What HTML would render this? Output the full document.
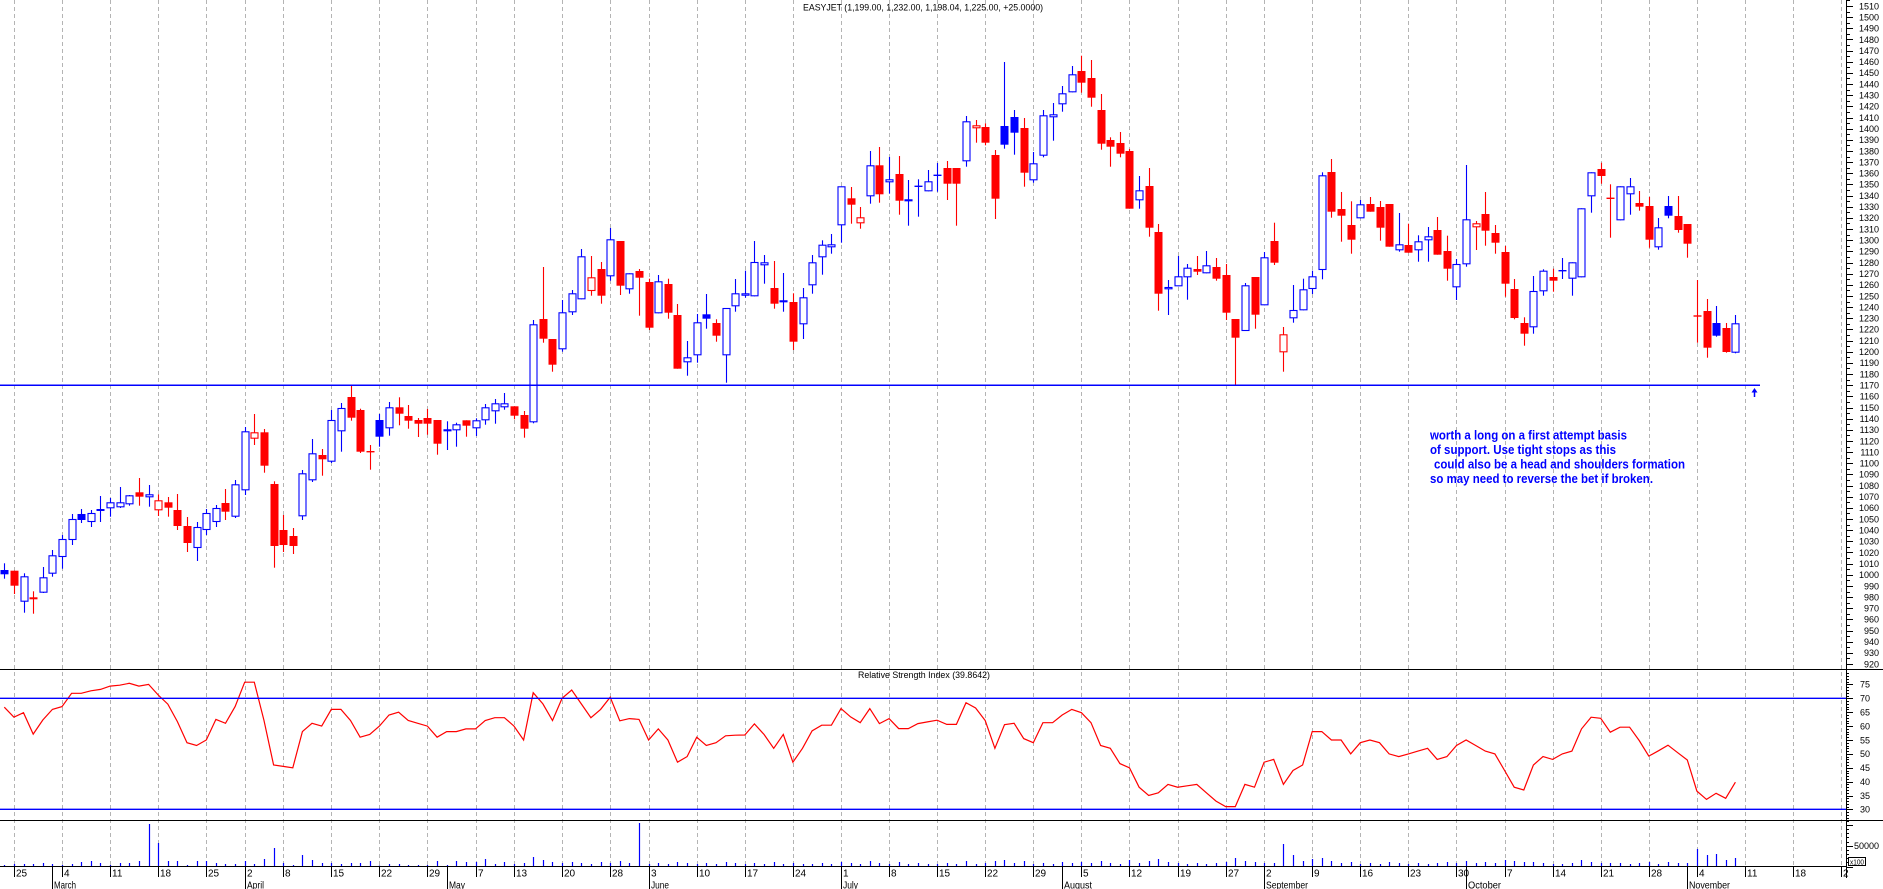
<!DOCTYPE html>
<html><head><meta charset="utf-8"><title>EASYJET</title>
<style>
html,body{margin:0;padding:0;background:#fff;overflow:hidden;}
svg{display:block;}
text{font-family:"Liberation Sans",Arial,sans-serif;fill:#000;}
</style></head><body>
<svg id="s" width="1883" height="889" viewBox="0 0 1883 889" xmlns="http://www.w3.org/2000/svg">
<rect width="1883" height="889" fill="#fff"/>
<g id="grid"></g>
<g id="vol"></g>
<g id="cand"></g>
<g id="rsi"></g>
<g stroke="#000" stroke-width="1" shape-rendering="crispEdges">
<line x1="0" y1="669.5" x2="1883" y2="669.5"/>
<line x1="0" y1="820.5" x2="1883" y2="820.5"/>
<line x1="0" y1="866.5" x2="1846" y2="866.5"/>
<line x1="1846.5" y1="0" x2="1846.5" y2="878"/>
</g>
<g stroke="#0000ff">
<line x1="0" y1="385.3" x2="1760" y2="385.3" stroke-width="1.5"/>
<line x1="0" y1="698.3" x2="1846" y2="698.3" stroke-width="1.3"/>
<line x1="0" y1="809.3" x2="1846" y2="809.3" stroke-width="1.3"/>
<line x1="1754.5" y1="390" x2="1754.5" y2="397" stroke-width="1.5"/>
</g>
<polygon points="1751.5,392.5 1754.5,388 1757.5,392.5" fill="#0000ff"/>
<g id="ticks" stroke="#000" stroke-width="1" shape-rendering="crispEdges"></g>
<g font-size="9" text-anchor="end">
<text x="1879" y="9.3">1510</text><text x="1879" y="20.5">1500</text><text x="1879" y="31.6">1490</text><text x="1879" y="42.8">1480</text><text x="1879" y="53.9">1470</text><text x="1879" y="65.1">1460</text><text x="1879" y="76.2">1450</text><text x="1879" y="87.4">1440</text><text x="1879" y="98.5">1430</text><text x="1879" y="109.7">1420</text><text x="1879" y="120.8">1410</text><text x="1879" y="132">1400</text><text x="1879" y="143.1">1390</text><text x="1879" y="154.3">1380</text><text x="1879" y="165.4">1370</text><text x="1879" y="176.6">1360</text><text x="1879" y="187.7">1350</text><text x="1879" y="198.9">1340</text><text x="1879" y="210.1">1330</text><text x="1879" y="221.2">1320</text><text x="1879" y="232.4">1310</text><text x="1879" y="243.5">1300</text><text x="1879" y="254.7">1290</text><text x="1879" y="265.8">1280</text><text x="1879" y="277">1270</text><text x="1879" y="288.1">1260</text><text x="1879" y="299.3">1250</text><text x="1879" y="310.4">1240</text><text x="1879" y="321.6">1230</text><text x="1879" y="332.7">1220</text><text x="1879" y="343.9">1210</text><text x="1879" y="355">1200</text><text x="1879" y="366.2">1190</text><text x="1879" y="377.3">1180</text><text x="1879" y="388.5">1170</text><text x="1879" y="399.7">1160</text><text x="1879" y="410.8">1150</text><text x="1879" y="422">1140</text><text x="1879" y="433.1">1130</text><text x="1879" y="444.3">1120</text><text x="1879" y="455.4">1110</text><text x="1879" y="466.6">1100</text><text x="1879" y="477.7">1090</text><text x="1879" y="488.9">1080</text><text x="1879" y="500">1070</text><text x="1879" y="511.2">1060</text><text x="1879" y="522.3">1050</text><text x="1879" y="533.5">1040</text><text x="1879" y="544.7">1030</text><text x="1879" y="555.8">1020</text><text x="1879" y="567">1010</text><text x="1879" y="578.1">1000</text><text x="1879" y="589.3">990</text><text x="1879" y="600.4">980</text><text x="1879" y="611.6">970</text><text x="1879" y="622.7">960</text><text x="1879" y="633.9">950</text><text x="1879" y="645">940</text><text x="1879" y="656.2">930</text><text x="1879" y="667.3">920</text>
<text x="1870" y="687.7">75</text><text x="1870" y="701.6">70</text><text x="1870" y="715.5">65</text><text x="1870" y="729.4">60</text><text x="1870" y="743.3">55</text><text x="1870" y="757.2">50</text><text x="1870" y="771.1">45</text><text x="1870" y="784.9">40</text><text x="1870" y="798.8">35</text><text x="1870" y="812.7">30</text>
<text x="1879" y="849">50000</text>
</g>
<rect x="1848.5" y="857.5" width="17" height="8" fill="#fff" stroke="#000" stroke-width="1"/>
<text x="1850" y="864.5" font-size="7" textLength="14" lengthAdjust="spacingAndGlyphs">x100</text>
<text x="923" y="10.5" font-size="9" text-anchor="middle" textLength="240" lengthAdjust="spacingAndGlyphs">EASYJET (1,199.00, 1,232.00, 1,198.04, 1,225.00, +25.0000)</text>
<text x="924" y="677.8" font-size="9" text-anchor="middle" textLength="132" lengthAdjust="spacingAndGlyphs">Relative Strength Index (39.8642)</text>
<g font-size="13" font-weight="bold" style="fill:#0000ff" lengthAdjust="spacingAndGlyphs">
<text x="1430" y="439.5" textLength="197" lengthAdjust="spacingAndGlyphs" style="fill:#0000ff">worth a long on a first attempt basis</text>
<text x="1430" y="454" textLength="186" lengthAdjust="spacingAndGlyphs" style="fill:#0000ff">of support. Use tight stops as this</text>
<text x="1434" y="468.5" textLength="251" lengthAdjust="spacingAndGlyphs" style="fill:#0000ff">could also be a head and shoulders formation</text>
<text x="1430" y="483" textLength="223" lengthAdjust="spacingAndGlyphs" style="fill:#0000ff">so may need to reverse the bet if broken.</text>
</g>
<g font-size="10">
<text x="16" y="876.5">25</text><text x="64" y="876.5">4</text><text x="112" y="876.5">11</text><text x="160" y="876.5">18</text><text x="208" y="876.5">25</text><text x="247" y="876.5">2</text><text x="285" y="876.5">8</text><text x="333" y="876.5">15</text><text x="381" y="876.5">22</text><text x="429" y="876.5">29</text><text x="478" y="876.5">7</text><text x="516" y="876.5">13</text><text x="564" y="876.5">20</text><text x="612" y="876.5">28</text><text x="651" y="876.5">3</text><text x="699" y="876.5">10</text><text x="747" y="876.5">17</text><text x="795" y="876.5">24</text><text x="843" y="876.5">1</text><text x="891" y="876.5">8</text><text x="939" y="876.5">15</text><text x="987" y="876.5">22</text><text x="1035" y="876.5">29</text><text x="1083" y="876.5">5</text><text x="1131" y="876.5">12</text><text x="1180" y="876.5">19</text><text x="1228" y="876.5">27</text><text x="1266" y="876.5">2</text><text x="1314" y="876.5">9</text><text x="1362" y="876.5">16</text><text x="1410" y="876.5">23</text><text x="1458" y="876.5">30</text><text x="1507" y="876.5">7</text><text x="1555" y="876.5">14</text><text x="1603" y="876.5">21</text><text x="1651" y="876.5">28</text><text x="1699" y="876.5">4</text><text x="1747" y="876.5">11</text><text x="1795" y="876.5">18</text><text x="1843" y="876.5">2</text>
<text x="54" y="888.5" textLength="22" lengthAdjust="spacingAndGlyphs">March</text>
<text x="247" y="888.5" textLength="17" lengthAdjust="spacingAndGlyphs">April</text>
<text x="449" y="888.5" textLength="16" lengthAdjust="spacingAndGlyphs">May</text>
<text x="651" y="888.5" textLength="18" lengthAdjust="spacingAndGlyphs">June</text>
<text x="843" y="888.5" textLength="15" lengthAdjust="spacingAndGlyphs">July</text>
<text x="1064" y="888.5" textLength="28" lengthAdjust="spacingAndGlyphs">August</text>
<text x="1266" y="888.5" textLength="42" lengthAdjust="spacingAndGlyphs">September</text>
<text x="1468" y="888.5" textLength="33" lengthAdjust="spacingAndGlyphs">October</text>
<text x="1689" y="888.5" textLength="41" lengthAdjust="spacingAndGlyphs">November</text>
</g>
</svg>
<script>
(function(){
var NS='http://www.w3.org/2000/svg';
function mk(p,n,a){var e=document.createElementNS(NS,n);for(var k in a)e.setAttribute(k,a[k]);p.appendChild(e);return e;}
function X(i){return 4.3+9.617*i;}
function P(i){return Math.round(X(i));}
var weeks=[1,6,11,16,21,25,29,34,39,44,49,53,58,63,67,72,77,82,87,92,97,102,107,112,117,122,127,131,136,141,146,151,156,161,166,171,176,181,186,191];
var months=[5,25,46,67,87,110,131,152,175];
var grid=document.getElementById('grid'),ticks=document.getElementById('ticks');
weeks.forEach(function(i){var x=P(i)+0.5;
 mk(grid,'line',{x1:x,x2:x,y1:0,y2:866,stroke:'#b4b4b4','stroke-dasharray':'4,3','stroke-width':1});
 mk(ticks,'line',{x1:x,x2:x,y1:866,y2:877});});
months.forEach(function(i){var x=P(i)+0.5;mk(ticks,'line',{x1:x,x2:x,y1:866,y2:889});});
var p,y;
for(p=915;p<=1515;p+=5){y=6+(1510-p)*1.1153;if(y<0||y>668)continue;y=Math.round(y)+0.5;mk(ticks,'line',{x1:1846,x2:(p%10===0?1853:1850),y1:y,y2:y});}
for(p=26;p<=79;p++){y=698.3+(70-p)*2.778;if(y<670||y>820)continue;y=Math.round(y)+0.5;mk(ticks,'line',{x1:1846,x2:(p%5===0?1853:1849),y1:y,y2:y});}
for(p=0;p<=11;p++){y=Math.round(866.5-p*4.16)+0.5;mk(ticks,'line',{x1:1846,x2:(p%5===0?1853:1849),y1:y,y2:y});}
var V=[1,2,2,2,3,2,1,2,4,5,3,1,3,3,5,42,23,5,5,1,5,5,3,2,2,5,2,7,18,3,1,11,6,3,3,2,3,3,5,0.5,2,2,1,1,1,5,1,5,4,4,7,2,4,2,
3,9,6,4,3,4,3,2,4,3,5,3,43,2,3,2,4,3,2,3,2,4,3,2,3,2,4,2,3,2,2,3,2,4,3,2,5,3,2,4,2,3,2,2,3,2,5,2,3,5,6,3,5,2,3,2,4,3,4,3,5,3,2,6,3,5,7,4,3,2,3,2,3,4,8,5,4,3,3,22,11,5,7,8,5,3,4,2,3,2,4,3,2,3,2,3,4,3,5,3,4,3,6,5,4,4,3,2,2,3,6,4,3,3,3,2,3,4,2,4,3,3,17,11,12,6,8];
var vol=document.getElementById('vol');
V.forEach(function(h,i){var x=P(i)+0.5;mk(vol,'line',{x1:x,x2:x,y1:866,y2:866-h,stroke:'#0000ff','stroke-width':1.2});});
var C=[[563.3,578.7,570,574.3,1,1],[570.7,594,570.7,585.7,0,1],[573.3,612.7,576.3,601.7,1,0],[591.3,613.7,597.3,599.3,0,1],[567,593,577.3,592.7,1,0],[550,576.7,555.3,573.7,1,0],[535,568.7,539,557,1,0],[514,545,519,540,1,0],[509,523,514,520,1,1],[510,527,513,522,1,0],
[496,522,509,511,1,1],[498,516.7,502.3,508.3,1,0],[487,508,502.3,507.3,1,0],[495,505.7,495.3,504.3,1,0],[478,505.7,492.3,496.7,0,1],[485,506.7,494.3,497.3,1,0],[494.3,516,500.3,510.3,0,0],[497,516.7,502.3,507.7,0,1],[494,530,510,526,0,1],[517,552,526,543,0,1],
[522,561,527,548,1,0],[509,535,513,530,1,0],[505,527,508,522,1,0],[489,520,503,511.7,0,1],[480,518,484.3,516.7,1,0],[427,495,431.3,490.3,1,0],[414,445,432.3,438.7,0,0],[429,472.7,432.3,465.7,0,1],[481.3,567.7,484,546,0,1],[515,552,530,545,0,1],
[528,554,536,546,0,1],[470,520,473.3,516.3,1,0],[439,482,453.3,480.3,1,0],[449,475.7,455,459.3,0,1],[410,463,420,461.7,1,0],[403,451.7,408,431.3,1,0],[386,420.7,397,417.7,0,1],[408.7,453,410,451.7,0,1],[445,469.7,451.7,451.7,0,1],[414,446.7,420,436.7,1,1],
[402,435.7,407.3,428.3,1,0],[397.3,425.3,407.3,413.7,0,1],[405,428.7,416,420.7,0,1],[418,437,420,423.7,0,1],[409,434.7,418,423.7,0,1],[420,454.7,420,443.7,0,1],[421.3,450,429.3,431.3,1,0],[422.7,446.7,424.3,430.3,1,0],[420.3,436.7,420.3,425.7,0,1],[418.3,436,420.3,428.3,1,0],
[404,424.7,407.3,420.3,1,0],[399,423.7,403.3,411.3,1,0],[393,409.7,403.3,407.3,1,0],[406.3,419.3,406.3,415.7,0,1],[411,437.7,415,428.7,0,1],[320,423.3,324.3,422.3,1,0],[267,342.7,319,338.7,0,1],[339,371.7,339,364.7,0,1],[300,351.7,312.3,349.3,1,0],[290,315,293.3,312.3,1,0],
[249,299.3,256.3,299.3,1,0],[256,295.7,277.3,291,0,0],[262,303.7,269,295.7,0,1],[228,280.7,239.3,276.3,1,0],[241,295,241,285.7,0,1],[273.3,293.7,273.3,289.3,1,0],[269,315.7,271,277.7,0,1],[278.7,330,282,327.7,0,1],[275,313.3,281.3,313.3,1,0],[278.7,318.7,284,312.7,0,1],
[304,368.7,315,368.7,0,1],[341,375.7,357.3,362.3,1,0],[314,362.7,322.3,355.3,1,0],[294,328.7,314.3,318.7,1,1],[319.3,341.7,323,335.7,0,1],[308,382.7,308,355.3,1,0],[279,311.7,293.3,306.3,1,0],[270.7,297.7,293.3,295.7,1,0],[241,296.3,262,296.3,1,0],[255,283.7,262.3,265.3,1,0],
[261,308.7,288,303.7,0,1],[273,311.7,300.3,302.3,1,0],[293.3,350,302,341.7,0,1],[288,339,297.3,324.3,1,0],[255,293.7,262.3,285.3,1,0],[240.3,274.7,244.7,257.3,1,0],[234,253.7,244.3,247.3,1,0],[186.3,242.7,186.3,225.3,1,0],[187,223.7,198.3,204.7,0,1],[207,228.7,217.3,223.3,0,0],
[151,203.7,165.3,196.3,1,0],[147,202.7,165.3,194.3,0,1],[157,193.7,179.3,182.3,1,0],[156,214.7,174,200.7,0,1],[180,225.7,199.3,201.3,1,0],[179.3,216.7,186.3,186.3,1,0],[170,191.3,181.3,191.3,1,0],[163,191.7,175.3,175.3,1,0],[161,200,168,183.7,0,1],[168,225.7,168,183.7,0,1],
[116,166.7,121.3,161.3,1,0],[120,142.7,125.3,128.3,0,0],[123.3,145.3,127,142.7,0,1],[150,219,155,198.7,0,1],[62,148.7,126,144.7,1,1],[110,154.7,117,132.7,1,1],[118,186.7,128,172.7,0,1],[152,182.7,163.3,180.3,1,0],[110,157.3,115.3,155.7,1,0],[103,140.7,114.3,117.3,1,0],
[86,111.7,93.3,104.3,1,0],[66,92.3,74.3,92.3,1,0],[55.7,92.7,71,82.7,0,1],[60,106.7,78,97.7,0,1],[94,149.7,110,143.7,0,1],[137.3,166.7,140,146.7,0,1],[132,157.3,143,153.7,0,1],[149,208.7,151,208.7,0,1],[176,208.7,190.3,200.3,1,0],[168,236.7,186,227.7,0,1],
[224,310.7,232,293.7,0,1],[280,315,287,289.3,1,0],[256,286.3,276.3,286.3,1,0],[264,299.7,267.7,277.3,1,0],[256,275,269,271.7,0,1],[251,273.3,265.3,273.3,1,0],[258,280.7,267,278.7,0,1],[264,320,275,312.7,0,1],[319,385.3,319,337.7,0,1],[283,331,285.3,331,1,0],
[277,328.7,277,314.7,0,1],[252,305.3,257.3,305.3,1,0],[222.7,265,241,262.7,0,1],[327,371.7,334.3,352.3,0,0],[285,322.7,310,318.3,1,0],[278.7,310.3,289.3,310.3,1,0],[270.7,294,276.3,289,1,0],[172.3,279.3,175.3,270,1,0],[159,217.7,172,211.7,0,1],[192,241.7,209,215.7,0,1],
[201.3,253.7,225,239.7,0,1],[200,218.3,204.3,218.3,1,0],[197,211.7,204,211.7,0,1],[201,240.7,207,227.7,0,1],[204,246.7,204,246.7,0,1],[213,251.7,244.3,250.3,1,0],[223.7,252.7,245,252.7,0,1],[235.3,261.7,241.3,250.3,1,0],[227,261.7,236.3,240.3,1,0],[217,254.7,230,254.7,0,1],
[235.7,280.7,251,268.7,0,1],[259,300,264,287.3,1,0],[165,266.7,219.3,264.3,1,0],[221,250,223.3,227.3,0,0],[192,245.7,214,230.7,0,1],[225,253.7,233,242.7,0,1],[246,296.7,252,283.7,0,1],[279,319.3,289,318,0,1],[317.3,345.7,323,333.7,0,1],[276,333.7,291,327.3,1,0],
[269.3,295.7,270.7,291.3,1,0],[268.7,291.7,277,280.7,0,1],[258,279,270.7,270.7,1,0],[262.3,295.7,262.3,278.7,1,0],[208.3,277.3,208.3,277.3,1,0],[172.3,212.7,172.3,196.3,1,0],[162.7,183.7,169,176,0,1],[184.3,237.7,198.3,198.3,0,1],[186.3,220.3,186.3,220.3,1,0],[178,214.7,186.3,194.3,1,0],
[191,210.7,203,206.7,0,1],[197,247.7,206,239.7,0,1],[218,249.7,227.3,247.3,1,0],[196,218.3,206,215.7,1,1],[196,232.7,216,230,0,1],[224,257.7,224,243.7,0,1],[280,342.7,316,316,0,1],[299,357.7,311,347.7,0,1],[306,336.7,323,335.7,1,1],[323,352.7,328,352,0,1],
[315,353.3,323.3,352.7,1,0]];
var cand=document.getElementById('cand');
C.forEach(function(c,i){
 var h=c[0],l=c[1],t=c[2],b=c[3],col=c[4]?'#0000ff':'#ff0000',f=c[5];
 var px=P(i),x=px+0.5;
 mk(cand,'line',{x1:x,x2:x,y1:h,y2:l,stroke:col,'stroke-width':1.1});
 if(b-t<1.5){mk(cand,'line',{x1:px-3.5,x2:px+4.5,y1:t,y2:t,stroke:col,'stroke-width':1.4});}
 else if(f){mk(cand,'rect',{x:px-3.5,y:t,width:8,height:b-t,fill:col});}
 else{mk(cand,'rect',{x:px-3,y:t+0.5,width:7,height:Math.max(b-t-1,0.5),fill:'#fff',stroke:col,'stroke-width':1.1});}
});
var R=[66.8,63.2,64.8,57.1,62.2,66.0,67.0,71.8,71.8,72.7,73.2,74.4,74.7,75.4,74.4,75.0,71.2,67.9,61.6,54,53,55,62.4,61,67,75.8,75.8,62,46,45.5,45,58,61,60,66,66,62,56,57,60,64,65,62,61,60,56,58,58,59,59,62,63,63,60,55,72,68,62,70,73,68,63,66,70.4,61.9,62.7,62.4,55,59,55,47,49,56,53,54,56.5,56.7,56.8,60.8,57,52,57,47,52,58.3,60.3,60.3,66.3,63.3,61.2,66.3,60.9,62.7,59.1,59.1,60.9,61.5,62.1,60.6,60.6,68.4,66.5,62,52,60.5,61,55.5,54,61.2,61.2,64,66,64.8,61.2,53,52,46.5,45,38,35,36,39,38,38.5,39,36,33,31,31,39,38,47,48,39,44,46,58,58,55,55,50,54,55,54,50,49,50,51,52,48,49,53,55,53,51,50,44,38,37,46,49,48,50,51,59,63.2,62.8,57.8,59.6,59.6,54.8,49.2,51.1,53.1,50.4,47.8,36.6,33.6,35.8,34,39.8];
var pts=R.map(function(v,i){return X(i).toFixed(1)+','+(698.3+(70-v)*2.778).toFixed(1);}).join(' ');
mk(document.getElementById('rsi'),'polyline',{points:pts,fill:'none',stroke:'#ff0000','stroke-width':1.2});
})();
</script>
</body></html>
